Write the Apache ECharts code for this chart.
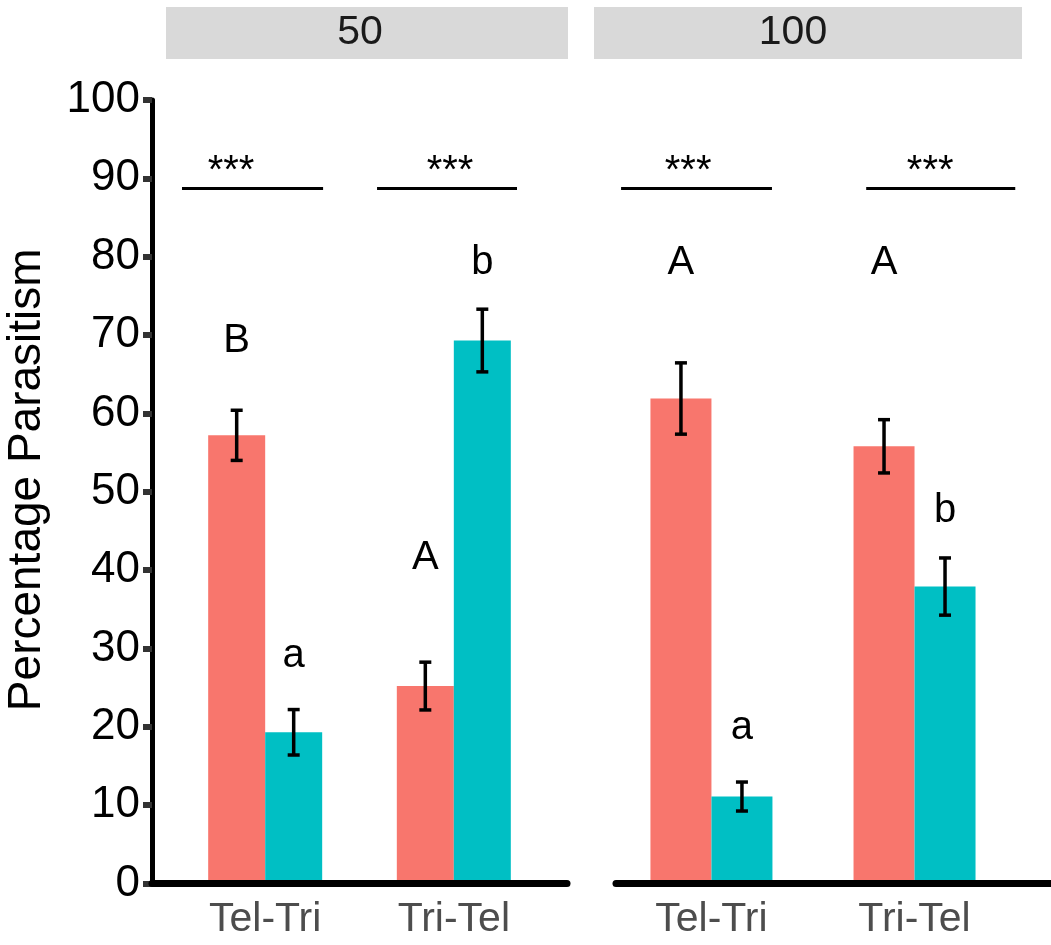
<!DOCTYPE html>
<html>
<head>
<meta charset="utf-8">
<script src="https://cdn.jsdelivr.net/npm/echarts@6/dist/echarts.min.js"></script>
<style>
html,body{margin:0;padding:0;background:#fff;}
#chart{width:1051px;height:945px;}
</style>
</head>
<body>
<div id="chart"></div>
<script>
// ---------- data ----------
const categories = ['Tel-Tri', 'Tri-Tel'];
const panelLabels = ['50', '100'];
const yTicks = [0, 10, 20, 30, 40, 50, 60, 70, 80, 90, 100];
const yTitle = 'Percentage Parasitism';

// panel "50"
const p50Red = [57.2, 25.2];
const p50RedSe = [3.2, 3.05];
const p50Cyan = [19.3, 69.3];
const p50CyanSe = [2.9, 4.0];
const p50RedLetters = ['B', 'A'];
const p50RedLetterY = [69.3, 41.6];
const p50CyanLetters = ['a', 'b'];
const p50CyanLetterY = [29.1, 79.2];
const p50Sig = ['***', '***'];
const p50SigStart = [0.559, 1.593];
const p50SigEnd = [1.307, 2.335];
const p50StarX = [0.819, 1.980];

// panel "100"
const p100Red = [61.9, 55.8];
const p100RedSe = [4.55, 3.4];
const p100Cyan = [11.1, 37.9];
const p100CyanSe = [1.85, 3.65];
const p100RedLetters = ['A', 'A'];
const p100RedLetterY = [79.2, 79.2];
const p100CyanLetters = ['a', 'b'];
const p100CyanLetterY = [19.8, 47.6];
const p100Sig = ['***', '***'];
const p100SigStart = [0.555, 1.762];
const p100SigEnd = [1.298, 2.496];
const p100StarX = [0.885, 2.077];

const sigLineY = 88.7;
const sigStarY = 90.8;

// ---------- styling ----------
const RED = '#F8766D';
const CYAN = '#00BFC4';
const FONT = "'Liberation Sans', Arial, Helvetica, sans-serif";

const panels = [
  { red: p50Red, redSe: p50RedSe, cyan: p50Cyan, cyanSe: p50CyanSe,
    redL: p50RedLetters, redLY: p50RedLetterY, cyanL: p50CyanLetters, cyanLY: p50CyanLetterY,
    sig: p50Sig, sigS: p50SigStart, sigE: p50SigEnd, starX: p50StarX,
    barW: 57, xMin: 0.4, xMax: 2.6 },
  { red: p100Red, redSe: p100RedSe, cyan: p100Cyan, cyanSe: p100CyanSe,
    redL: p100RedLetters, redLY: p100RedLetterY, cyanL: p100CyanLetters, cyanLY: p100CyanLetterY,
    sig: p100Sig, sigS: p100SigStart, sigE: p100SigEnd, starX: p100StarX,
    barW: 61, xMin: 0.53, xMax: 2.672 }
];

const grids = [
  { left: 152, right: 484, top: 100, bottom: 61.5 },
  { left: 616, right: 0, top: 100, bottom: 61.5 }
];

const xAxes = panels.map((p, i) => ({
  type: 'value', gridIndex: i, min: p.xMin, max: p.xMax, z: 5,
  splitLine: { show: false },
  axisTick: { show: false },
  axisLine: { show: true, onZero: false, lineStyle: { color: '#000', width: 7 } },
  axisLabel: {
    customValues: [1, 2],
    formatter: v => categories[Math.round(v) - 1] || '',
    color: '#4D4D4D', fontSize: 41, fontFamily: FONT, margin: 16
  }
}));

const yAxes = [0, 1].map(i => ({
  type: 'value', gridIndex: i, min: 0, max: 100, interval: 10,
  show: i === 0,
  splitLine: { show: false },
  axisLine: { show: i === 0, lineStyle: { color: '#000', width: 5 } },
  axisTick: { show: i === 0, length: 9, lineStyle: { color: '#333', width: 6 } },
  axisLabel: { show: i === 0, color: '#000', fontSize: 44, fontFamily: FONT, margin: 12,
    formatter: v => yTicks.includes(v) ? String(v) : '' },
  name: i === 0 ? yTitle : '',
  nameLocation: 'middle', nameRotate: 90, nameGap: 102,
  nameTextStyle: { color: '#000', fontSize: 46, fontFamily: FONT, padding: [0, 0, 0, 24] }
}));

const series = [];
panels.forEach((p, i) => {
  series.push({
    type: 'bar', xAxisIndex: i, yAxisIndex: i, barWidth: p.barW, barGap: '0%',
    itemStyle: { color: RED }, data: categories.map((c, k) => [k + 1, p.red[k]])
  });
  series.push({
    type: 'bar', xAxisIndex: i, yAxisIndex: i, barWidth: p.barW, barGap: '0%',
    itemStyle: { color: CYAN }, data: categories.map((c, k) => [k + 1, p.cyan[k]])
  });
  // error bars
  const errData = [];
  categories.forEach((c, k) => {
    errData.push([k + 1, p.red[k], p.redSe[k], -1]);
    errData.push([k + 1, p.cyan[k], p.cyanSe[k], 1]);
  });
  const half = p.barW / 2;
  series.push({
    type: 'custom', xAxisIndex: i, yAxisIndex: i, z: 10, silent: true,
    data: errData,
    renderItem: (params, api) => {
      const x = api.value(0), m = api.value(1), s = api.value(2), side = api.value(3);
      const top = api.coord([x, m + s]);
      const bot = api.coord([x, m - s]);
      const cx = top[0] + side * half;
      const cw = 6;
      const st = { stroke: '#000', lineWidth: 3.5 };
      return { type: 'group', children: [
        { type: 'line', shape: { x1: cx, y1: top[1], x2: cx, y2: bot[1] }, style: st },
        { type: 'line', shape: { x1: cx - cw, y1: top[1], x2: cx + cw, y2: top[1] }, style: st },
        { type: 'line', shape: { x1: cx - cw, y1: bot[1], x2: cx + cw, y2: bot[1] }, style: st }
      ]};
    }
  });
  // letters
  const letData = [];
  categories.forEach((c, k) => {
    letData.push([k + 1, p.redLY[k], -1, p.redL[k]]);
    letData.push([k + 1, p.cyanLY[k], 1, p.cyanL[k]]);
  });
  series.push({
    type: 'custom', xAxisIndex: i, yAxisIndex: i, z: 10, silent: true,
    data: letData,
    renderItem: (params, api) => {
      const pt = api.coord([api.value(0), api.value(1)]);
      const d = letData[params.dataIndex];
      return { type: 'text', x: pt[0] + d[2] * half, y: pt[1],
        style: { text: d[3], fill: '#000', font: '40px ' + FONT, align: 'center', verticalAlign: 'middle' } };
    }
  });
  // significance
  const sigData = categories.map((c, k) => [p.sigS[k], p.sigE[k], p.starX[k], k]);
  series.push({
    type: 'custom', xAxisIndex: i, yAxisIndex: i, z: 10, silent: true,
    data: sigData,
    renderItem: (params, api) => {
      const a = api.coord([api.value(0), sigLineY]);
      const b = api.coord([api.value(1), sigLineY]);
      const s = api.coord([api.value(2), sigStarY]);
      return { type: 'group', children: [
        { type: 'line', shape: { x1: a[0], y1: a[1], x2: b[0], y2: b[1] }, style: { stroke: '#000', lineWidth: 3 } },
        { type: 'text', x: s[0], y: s[1], style: { text: p.sig[api.value(3)], fill: '#000', font: '40px ' + FONT, align: 'center', verticalAlign: 'middle' } }
      ]};
    }
  });
});

const strips = [
  { x: 166, w: 402, tx: 360 },
  { x: 594, w: 428, tx: 793 }
];
const graphic = [];
strips.forEach((s, i) => {
  graphic.push({ type: 'rect', left: s.x, top: 7, shape: { width: s.w, height: 52 }, style: { fill: '#D9D9D9' }, z: 0 });
  graphic.push({ type: 'text', x: s.tx, y: 33, style: { text: panelLabels[i], fill: '#1A1A1A', font: '41px ' + FONT, align: 'center', verticalAlign: 'middle' }, z: 1 });
});

const chart = echarts.init(document.getElementById('chart'), null, { renderer: 'canvas' });
chart.setOption({
  animation: false,
  backgroundColor: '#fff',
  grid: grids,
  xAxis: xAxes,
  yAxis: yAxes,
  series: series,
  graphic: graphic
});
</script>
</body>
</html>
